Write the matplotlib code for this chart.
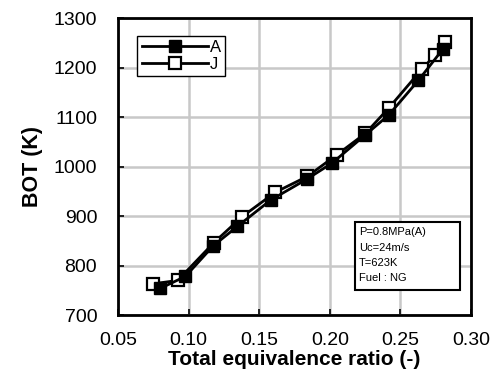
import matplotlib
matplotlib.use('Agg')
import matplotlib.pyplot as plt
from matplotlib.patches import Rectangle

plt.rcParams['font.family'] = ['Liberation Sans', 'DejaVu Sans']

# serie A (simbolo cheio)
phi_a = [0.080, 0.0977, 0.1175, 0.1345, 0.158, 0.184, 0.2016, 0.2252, 0.2417, 0.2627, 0.280]
bot_a = [754, 778, 840, 879, 932, 975, 1007, 1064, 1104, 1174, 1237]

# serie J (simbolo vazio)
phi_j = [0.0748, 0.0923, 0.1178, 0.1380, 0.1614, 0.184, 0.2051, 0.2252, 0.2417, 0.2653, 0.2745, 0.2816]
bot_j = [763, 770, 846, 899, 948, 980, 1024, 1067, 1118, 1197, 1225, 1251]

xticks = [0.05, 0.10, 0.15, 0.20, 0.25, 0.30]
yticks = [700, 800, 900, 1000, 1100, 1200, 1300]
info = ['P=0.8MPa(A)', 'Uc=24m/s', 'T=623K', 'Fuel : NG']

fig = plt.figure(figsize=(4.99, 3.88), dpi=100)
ax = fig.add_axes([0.2365, 0.188, 0.7075, 0.7656])

ax.plot(phi_a, bot_a, '-s', color='black', lw=2, ms=8,
        mfc='black', mec='black', label='A', zorder=4)
ax.plot(phi_j, bot_j, '-s', color='black', lw=2, ms=8,
        mfc='white', mec='black', mew=1.6, label='J', zorder=3)

ax.set_xlim(0.05, 0.30)
ax.set_ylim(700, 1300)
ax.set_xticks(xticks)
ax.set_yticks(yticks)
ax.set_xticklabels(['%.2f' % v for v in xticks])
ax.grid(True, color='#c8c8c8', lw=1.8)
ax.set_axisbelow(True)
ax.tick_params(direction='in', length=4, width=1.2, labelsize=14)
ax.tick_params(axis='y', pad=15)
ax.tick_params(axis='x', pad=12)
for s in ax.spines.values():
    s.set_linewidth(2)

ax.set_xlabel('Total equivalence ratio (-)', fontsize=15, fontweight='bold', labelpad=1)
ax.set_ylabel('BOT (K)', fontsize=15.5, fontweight='bold', labelpad=8)

leg = ax.legend(loc='upper left', bbox_to_anchor=(0.055, 0.94), fontsize=12,
                handlelength=4, handletextpad=0.1, borderpad=0.25,
                labelspacing=0.12, fancybox=False, framealpha=1,
                edgecolor='black', borderaxespad=0)
leg.get_frame().set_linewidth(1)

# caixa com as condicoes de ensaio
ax.add_patch(Rectangle((0.671, 0.084), 0.298, 0.229, transform=ax.transAxes,
                       fc='white', ec='black', lw=1.5, zorder=5))
for i, linha in enumerate(info):
    ax.text(0.683, 0.278 - i * 0.051, linha, transform=ax.transAxes,
            fontsize=8, va='center', ha='left', zorder=6)

plt.savefig('out.png', dpi=100)
